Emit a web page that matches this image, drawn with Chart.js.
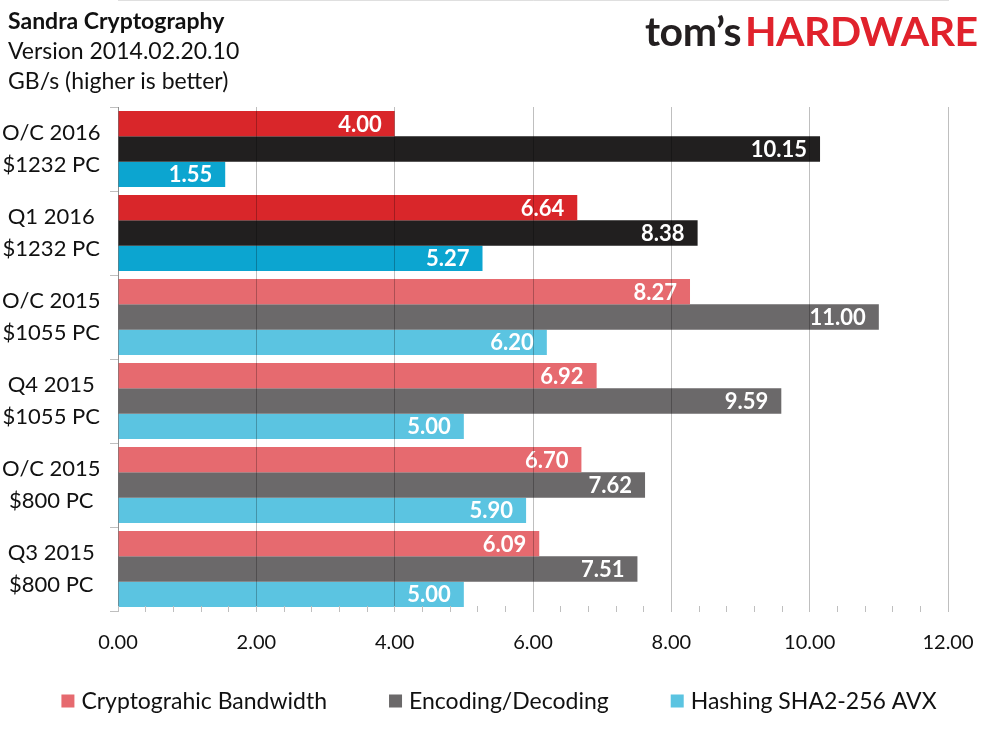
<!DOCTYPE html>
<html>
<head>
<meta charset="utf-8">
<script src="https://cdn.jsdelivr.net/npm/chart.js@4/dist/chart.umd.min.js"></script>
<style>
  body { margin: 0; background: #fff; }
  #wrap { position: relative; width: 989px; height: 742px; font-family: Lato, sans-serif; }
  #myChart { position: absolute; left: 0; top: 0; }
  .titulo { position: absolute; left: 8px; color: #111; font-size: 23px; line-height: 23px; white-space: nowrap; }
  #logo { position: absolute; left: 645px; top: 10px; font-size: 41px; font-weight: 700; line-height: 41px; letter-spacing: -0.5px; white-space: nowrap; }
  #logo .toms { color: #231f20; }
  #logo .hw { color: #e0222c; margin-left: 4px; }
</style>
</head>
<body>
<div id="wrap">
  <canvas id="myChart" width="989" height="742"></canvas>
  <div class="titulo" style="top:9px;font-weight:700">Sandra Cryptography</div>
  <div class="titulo" style="top:39px">Version 2014.02.20.10</div>
  <div class="titulo" style="top:69px">GB/s (higher is better)</div>
  <div id="logo"><span class="toms">tom’s</span><span class="hw">HARDWARE</span></div>
</div>
<script>
const categorias = [
  ["O/C 2016", "$1232 PC"],
  ["Q1 2016", "$1232 PC"],
  ["O/C 2015", "$1055 PC"],
  ["Q4 2015", "$1055 PC"],
  ["O/C 2015", "$800 PC"],
  ["Q3 2015", "$800 PC"],
];
const bandwidth = [4.00, 6.64, 8.27, 6.92, 6.70, 6.09];
const encoding = [10.15, 8.38, 11.00, 9.59, 7.62, 7.51];
const hashing = [1.55, 5.27, 6.20, 5.00, 5.90, 5.00];
const series = ["Cryptograhic Bandwidth", "Encoding/Decoding", "Hashing SHA2-256 AVX"];
const xTicks = [0, 2, 4, 6, 8, 10, 12];

// los dos primeros grupos van con colores fuertes
const fuertes = 2;
const colores = (fuerte, claro) => categorias.map((c, i) => (i < fuertes ? fuerte : claro));

const chart = document.querySelector("#myChart");

const esMayor = (v) => xTicks.some((t) => Math.abs(t - v) < 1e-6);

// valores blancos dentro de cada barra
const etiquetas = {
  id: "etiquetas",
  afterDatasetsDraw(c) {
    const ctx = c.ctx;
    ctx.save();
    ctx.font = "bold 22px Lato, sans-serif";
    ctx.fillStyle = "#fff";
    ctx.textAlign = "right";
    ctx.textBaseline = "middle";
    c.data.datasets.forEach((ds, i) => {
      c.getDatasetMeta(i).data.forEach((bar, j) => {
        ctx.fillText(ds.data[j].toFixed(2), bar.x - 13, bar.y + 1);
      });
    });
    ctx.restore();
  },
};

// leyenda abajo, con el espaciado del original
const leyenda = {
  id: "leyenda",
  afterDraw(c) {
    const ctx = c.ctx;
    const caja = 13, sep = 7, hueco = 62, centro = 499, y = 701;
    ctx.save();
    ctx.font = "23px Lato, sans-serif";
    ctx.textBaseline = "middle";
    const items = c.data.datasets.map((ds) => ({
      texto: ds.label,
      color: ds.backgroundColor[ds.backgroundColor.length - 1],
      ancho: ctx.measureText(ds.label).width,
    }));
    const total = items.reduce((s, it) => s + caja + sep + it.ancho, 0) + hueco * (items.length - 1);
    let x = centro - total / 2;
    items.forEach((it) => {
      ctx.fillStyle = it.color;
      ctx.fillRect(x, y - caja / 2, caja, caja);
      ctx.fillStyle = "#111";
      ctx.textAlign = "left";
      ctx.fillText(it.texto, x + caja + sep, y + 1);
      x += caja + sep + it.ancho + hueco;
    });
    ctx.restore();
  },
};

const config = {
  type: "bar",
  data: {
    labels: categorias,
    datasets: [
      { label: series[0], data: bandwidth, backgroundColor: colores("#d9262a", "#e66a6f") },
      { label: series[1], data: encoding, backgroundColor: colores("#211f1f", "#6b696a") },
      { label: series[2], data: hashing, backgroundColor: colores("#0ca5d0", "#5bc4e1") },
    ],
  },
  options: {
    indexAxis: "y",
    responsive: false,
    animation: false,
    events: [],
    categoryPercentage: 0.905,
    barPercentage: 1.0,
    layout: { autoPadding: false, padding: { top: 107, right: 41, left: 0, bottom: 81 } },
    scales: {
      x: {
        min: 0,
        max: 12,
        afterBuildTicks: (s) => {
          s.ticks = [];
          for (let k = 0; k <= 30; k++) s.ticks.push({ value: Math.round(k * 4) / 10 });
        },
        grid: {
          z: 1,
          color: (ctx) => (ctx.tick && esMayor(ctx.tick.value) ? "rgba(0,0,0,0.25)" : "transparent"),
          tickColor: "#bfbfbf",
          tickLength: -5,
          lineWidth: 1,
        },
        border: { color: "#bfbfbf", width: 1 },
        ticks: {
          autoSkip: false,
          maxRotation: 0,
          padding: 10,
          color: "#111",
          font: { family: "Lato", size: 20, lineHeight: 2.7 },
          callback: (v) => (esMayor(v) ? v.toFixed(2) : ""),
        },
        afterFit: (s) => { s.height = 50; },
      },
      y: {
        grid: { drawOnChartArea: false, color: "#bfbfbf", tickLength: 8 },
        border: { color: "#bfbfbf", width: 1 },
        ticks: {
          crossAlign: "center",
          color: "#111",
          font: { family: "Lato", size: 22, lineHeight: 1.45 },
          padding: 9.5,
        },
        afterFit: (s) => { s.width = 118; },
      },
    },
    plugins: {
      legend: { display: false },
      tooltip: { enabled: false },
    },
  },
  plugins: [etiquetas, leyenda],
};

let myChart = new Chart(chart, config);
</script>
</body>
</html>
